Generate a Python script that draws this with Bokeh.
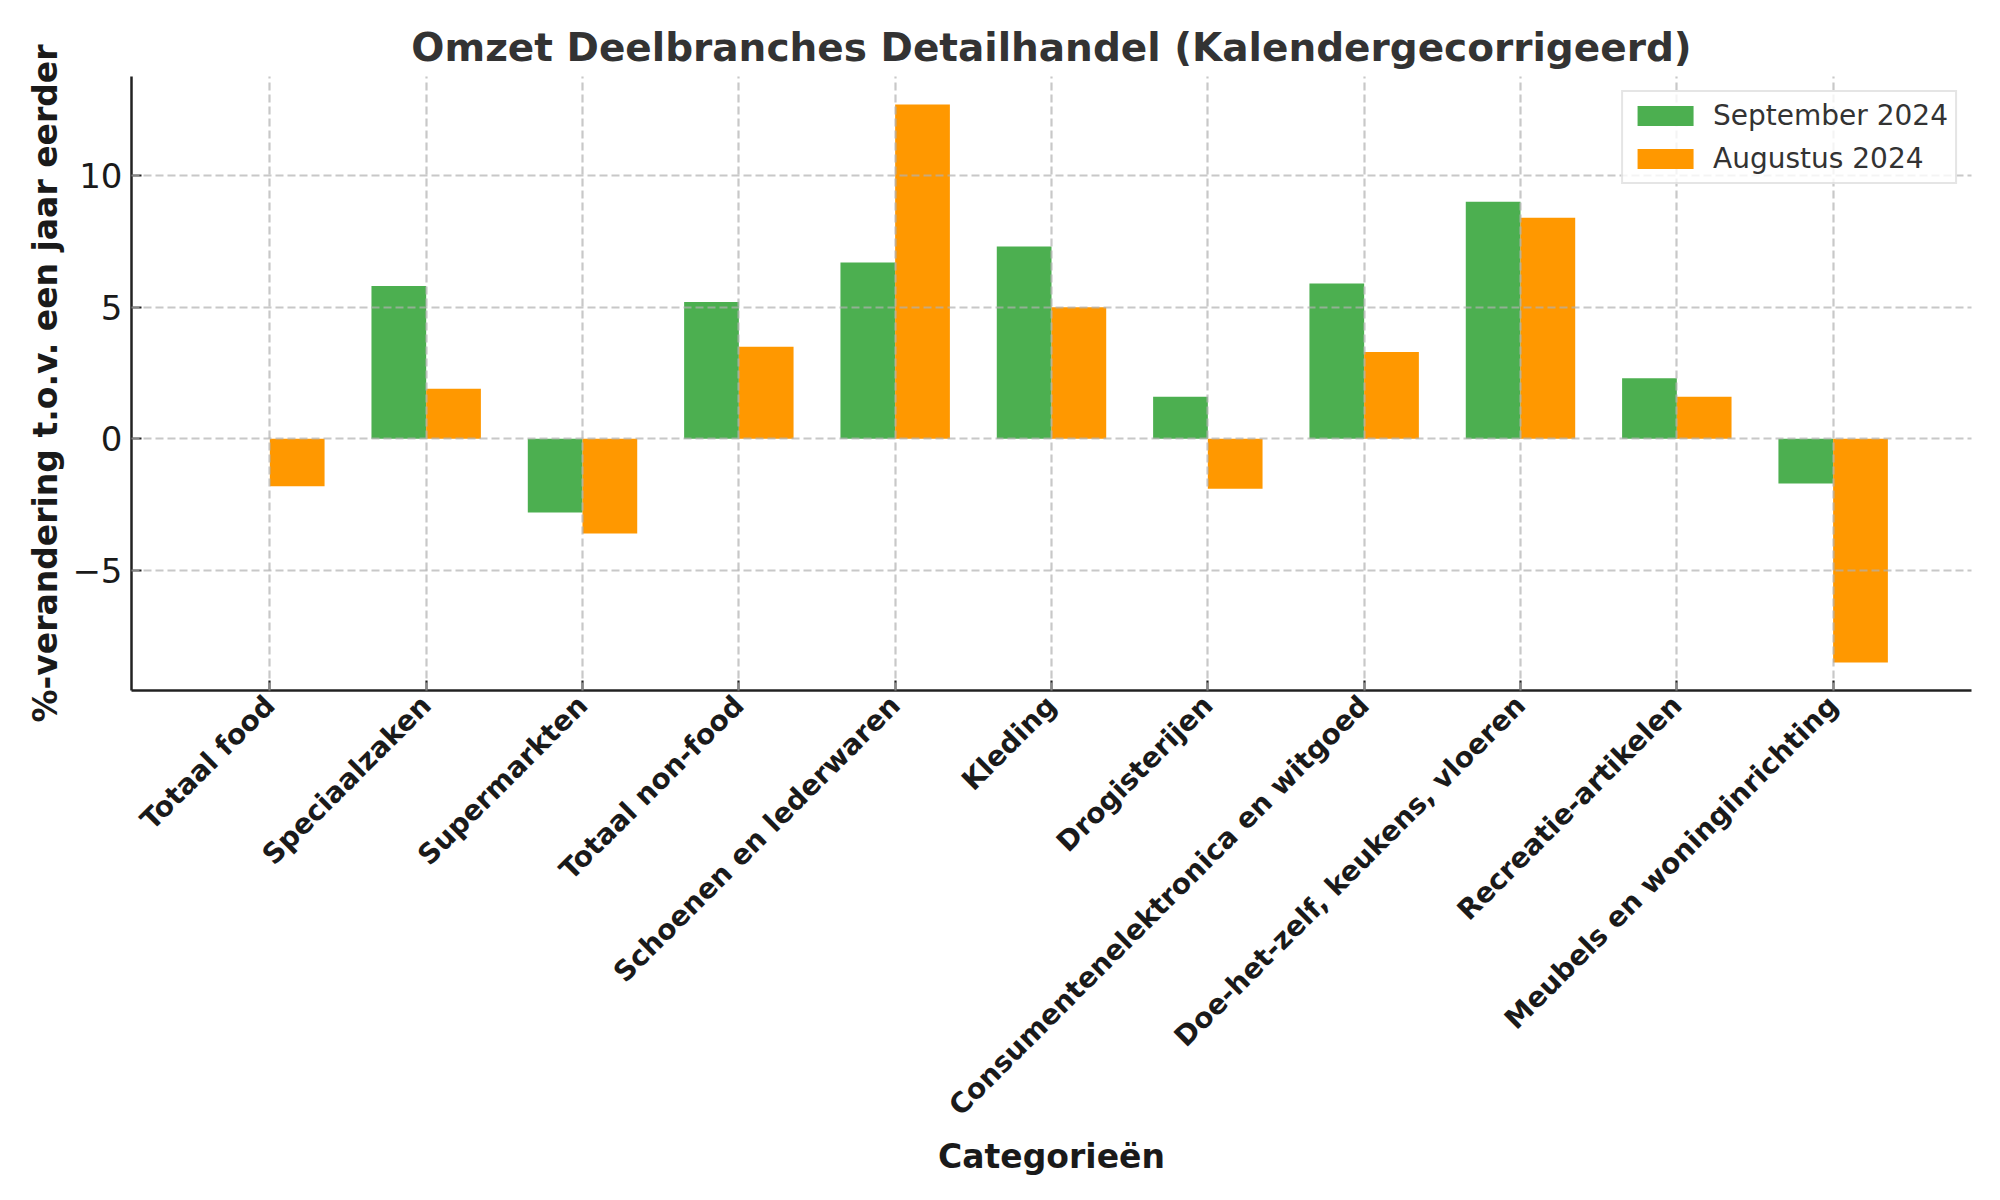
import math
from bokeh.plotting import figure
from bokeh.models import Range1d, FixedTicker, ColumnDataSource
from bokeh.embed import file_html
from bokeh.resources import INLINE

# ---- data ----
categories = [
    "Totaal food", "Speciaalzaken", "Supermarkten", "Totaal non-food",
    "Schoenen en lederwaren", "Kleding", "Drogisterijen",
    "Consumentenelektronica en witgoed", "Doe-het-zelf, keukens, vloeren",
    "Recreatie-artikelen", "Meubels en woninginrichting",
]
september_2024 = [0.0, 5.8, -2.8, 5.2, 6.7, 7.3, 1.6, 5.9, 9.0, 2.3, -1.7]
augustus_2024 = [-1.8, 1.9, -3.6, 3.5, 12.7, 5.0, -1.9, 3.3, 8.4, 1.6, -8.5]
series_names = ["September 2024", "Augustus 2024"]
y_ticks = [-5, 0, 5, 10]

GREEN = "#4CAF50"
ORANGE = "#FF9800"
FONT = "DejaVu Sans"
BAR_W = 0.35

idx = list(range(len(categories)))
src = ColumnDataSource(dict(
    x_sep=[i - BAR_W / 2 for i in idx],
    x_aug=[i + BAR_W / 2 for i in idx],
    sep=september_2024,
    aug=augustus_2024,
))

# ranges like matplotlib autoscale (5% margins)
xmin, xmax = -BAR_W, len(categories) - 1 + BAR_W
xpad = 0.05 * (xmax - xmin)
allv = september_2024 + augustus_2024
ymin, ymax = min(allv), max(allv)
ypad = 0.05 * (ymax - ymin)

p = figure(
    frame_width=1840, frame_height=614,
    min_border_left=131, min_border_right=13,
    min_border_top=76, min_border_bottom=494,
    x_range=Range1d(xmin - xpad, xmax + xpad),
    y_range=Range1d(ymin - ypad, ymax + ypad),
    output_backend="svg", toolbar_location=None,
    title="Omzet Deelbranches Detailhandel (Kalendergecorrigeerd)",
)
p.background_fill_color = "white"
p.border_fill_color = "white"
p.outline_line_color = None

p.vbar(x="x_sep", top="sep", bottom=0, width=BAR_W, source=src,
       fill_color=GREEN, line_color=None, legend_label=series_names[0])
p.vbar(x="x_aug", top="aug", bottom=0, width=BAR_W, source=src,
       fill_color=ORANGE, line_color=None, legend_label=series_names[1])

# title
p.title.align = "center"
p.title.text_font = FONT
p.title.text_font_size = "39px"
p.title.text_font_style = "bold"
p.title.text_color = "#333333"
p.title.standoff = 14

# axes
for ax in (p.xaxis[0], p.yaxis[0]):
    ax.axis_line_color = "#222222"
    ax.axis_line_width = 2.5
    ax.major_tick_line_color = "#222222"
    ax.major_tick_line_width = 2.2
    ax.major_tick_in = 10
    ax.major_tick_out = 0
    ax.minor_tick_line_color = None
    ax.axis_label_text_font = FONT
    ax.axis_label_text_font_size = "33px"
    ax.axis_label_text_font_style = "bold"
    ax.axis_label_text_color = "#1a1a1a"
    ax.major_label_text_font = FONT
    ax.major_label_text_color = "#1a1a1a"

p.xaxis.ticker = FixedTicker(ticks=idx)
p.xaxis.major_label_overrides = {i: c for i, c in zip(idx, categories)}
p.xaxis.major_label_orientation = math.pi / 4
p.xaxis.major_label_text_font_size = "28px"
p.xaxis.major_label_text_font_style = "bold"
p.xaxis.major_label_standoff = 10
p.xaxis.axis_label = "Categorieën"
p.xaxis.axis_label_standoff = 0

p.yaxis.ticker = FixedTicker(ticks=y_ticks)
p.yaxis.major_label_overrides = {t: (str(t).replace("-", "\u2212")) for t in y_ticks}
p.yaxis.major_label_text_font_size = "34px"
p.yaxis.major_label_standoff = 9
p.yaxis.axis_label = "%-verandering t.o.v. een jaar eerder"
p.yaxis.axis_label_standoff = 4

# grid (drawn above bars, as in the reference)
for g in (p.xgrid[0], p.ygrid[0]):
    g.grid_line_color = "#b0b0b0"
    g.grid_line_alpha = 0.7
    g.grid_line_dash = "8 4"
    g.grid_line_width = 2.2
    g.level = "guide"

# legend
lg = p.legend[0]
lg.location = "top_right"
lg.margin = 14
lg.padding = 7
lg.spacing = 10
lg.glyph_width = 70
lg.glyph_height = 25
lg.label_height = 32
lg.label_standoff = 13
lg.label_text_font = FONT
lg.label_text_font_size = "28px"
lg.label_text_color = "#333333"
lg.border_line_color = "#cccccc"
lg.border_line_width = 2
lg.background_fill_color = "white"
lg.background_fill_alpha = 0.8

open("out.html", "w").write(file_html(p, INLINE))
